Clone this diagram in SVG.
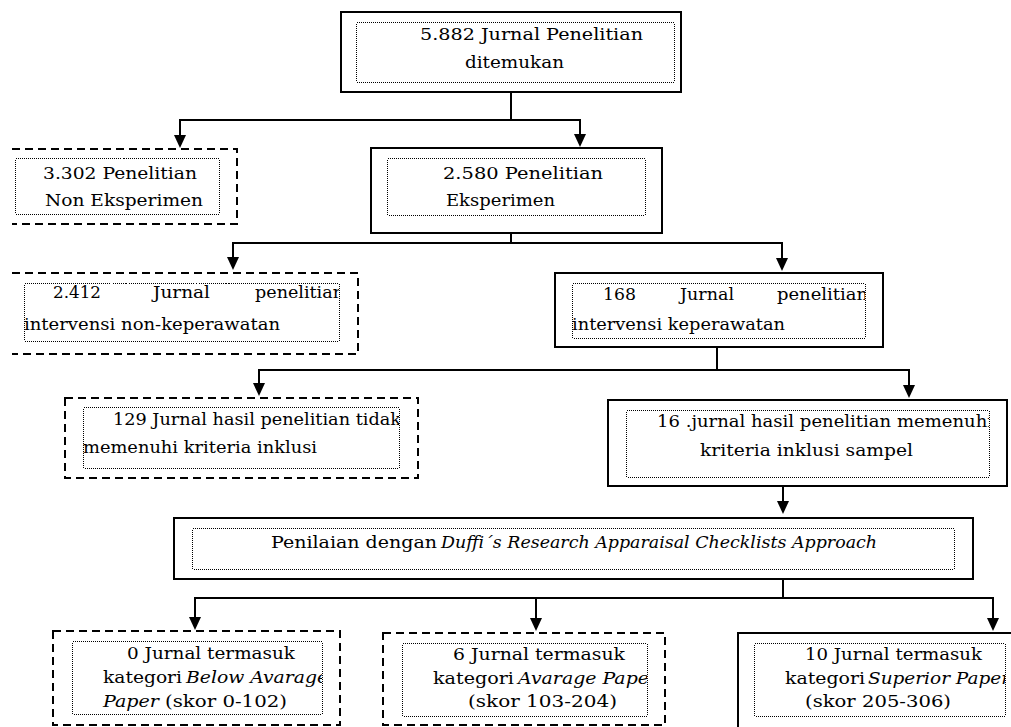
<svg xmlns="http://www.w3.org/2000/svg" width="1011" height="727" viewBox="0 0 1011 727">
<style>
.solid{fill:#fff;stroke:#000;stroke-width:2}
.dash{fill:none;stroke:#000;stroke-width:2;stroke-dasharray:8 5}
.dot{fill:none;stroke:#000;stroke-width:1;stroke-dasharray:1 1;shape-rendering:crispEdges}
.t{font-family:"DejaVu Serif","Liberation Serif",serif;font-size:16.5px;fill:#000}
.i{font-style:italic}
.c{fill:none;stroke:#000;stroke-width:2}
</style>
<defs>
<clipPath id="c1"><rect x="24" y="283" width="315" height="58"/></clipPath>
<clipPath id="c2"><rect x="572" y="283" width="293" height="55"/></clipPath>
<clipPath id="c3"><rect x="83" y="407" width="316" height="61"/></clipPath>
<clipPath id="c4"><rect x="626" y="410" width="363" height="67"/></clipPath>
<clipPath id="c5"><rect x="72" y="641" width="250" height="73"/></clipPath>
<clipPath id="c6"><rect x="402" y="643" width="245" height="73"/></clipPath>
<clipPath id="c7"><rect x="754" y="643" width="251" height="73"/></clipPath>
</defs>
<rect width="1011" height="727" fill="#fff"/>
<g id="connectors">
<path class="c" d="M511 92 V120 H180 V138"/>
<path class="c" d="M511 120 H580 V137"/>
<polygon points="174,135 186,135 180,148"/>
<polygon points="574,134 586,134 580,147"/>
<path class="c" d="M511 233 V243 H233 V258"/>
<path class="c" d="M511 243 H782 V258"/>
<polygon points="227,257 239,257 233,270"/>
<polygon points="776,258 788,258 782,271"/>
<path class="c" d="M717 347 V370 H259 V384"/>
<path class="c" d="M717 370 H909 V386"/>
<polygon points="253,383 265,383 259,396"/>
<polygon points="903,385 915,385 909,398"/>
<path class="c" d="M783 486 V503"/>
<polygon points="777,501 789,501 783,514"/>
<path class="c" d="M783 579 V598 H195 V618"/>
<path class="c" d="M783 598 H993 V619"/>
<path class="c" d="M536 598 V619"/>
<polygon points="189,617 201,617 195,630"/>
<polygon points="530,618 542,618 536,631"/>
<polygon points="987,618 999,618 993,631"/>
</g>
<g id="n1">
<rect class="solid" x="341" y="12" width="340" height="80"/>
<rect class="dot" x="356.5" y="22.5" width="318" height="60" rx="2"/>
<text class="t" x="420" y="40" textLength="223" lengthAdjust="spacingAndGlyphs">5.882 Jurnal Penelitian</text>
<text class="t" x="465" y="68" textLength="99" lengthAdjust="spacingAndGlyphs">ditemukan</text>
</g>
<g id="n2">
<path class="dash" d="M12 149 H237 V224 H12"/>
<rect class="dot" x="15.5" y="158.5" width="204" height="56" rx="2"/>
<text class="t" x="43" y="179" textLength="154" lengthAdjust="spacingAndGlyphs">3.302 Penelitian</text>
<text class="t" x="45" y="206" textLength="158" lengthAdjust="spacingAndGlyphs">Non Eksperimen</text>
</g>
<g id="n3">
<rect class="solid" x="371" y="148" width="291" height="85"/>
<rect class="dot" x="387.5" y="158.5" width="258" height="57" rx="2"/>
<text class="t" x="443" y="179" textLength="160" lengthAdjust="spacingAndGlyphs">2.580 Penelitian</text>
<text class="t" x="446" y="206" textLength="109" lengthAdjust="spacingAndGlyphs">Eksperimen</text>
</g>
<g id="n4">
<path class="dash" d="M12 273 H358 V354 H12"/>
<rect class="dot" x="24.5" y="283.5" width="315" height="58" rx="2"/>
<g clip-path="url(#c1)">
<text class="t" x="53" y="298" textLength="48" lengthAdjust="spacingAndGlyphs">2.412</text>
<text class="t" x="153" y="298" textLength="57" lengthAdjust="spacingAndGlyphs">Jurnal</text>
<text class="t" x="255" y="298" textLength="89" lengthAdjust="spacingAndGlyphs">penelitian</text>
</g>
<text class="t" x="24" y="330" textLength="256" lengthAdjust="spacingAndGlyphs">intervensi  non-keperawatan</text>
</g>
<g id="n5">
<rect class="solid" x="555" y="273" width="328" height="74"/>
<rect class="dot" x="572.5" y="283.5" width="293" height="55" rx="2"/>
<g clip-path="url(#c2)">
<text class="t" x="603" y="300" textLength="33" lengthAdjust="spacingAndGlyphs">168</text>
<text class="t" x="680" y="300" textLength="54" lengthAdjust="spacingAndGlyphs">Jurnal</text>
<text class="t" x="777" y="300" textLength="91" lengthAdjust="spacingAndGlyphs">penelitian</text>
</g>
<text class="t" x="572" y="330" textLength="213" lengthAdjust="spacingAndGlyphs">intervensi keperawatan</text>
</g>
<g id="n6">
<rect class="dash" x="65" y="398" width="353" height="80"/>
<rect class="dot" x="83.5" y="407.5" width="316" height="61" rx="2"/>
<g clip-path="url(#c3)">
<text class="t" x="113" y="425" textLength="288" lengthAdjust="spacingAndGlyphs">129 Jurnal hasil penelitian tidak</text>
</g>
<text class="t" x="83" y="453" textLength="234" lengthAdjust="spacingAndGlyphs">memenuhi kriteria inklusi</text>
</g>
<g id="n7">
<rect class="solid" x="608" y="400" width="399" height="86"/>
<rect class="dot" x="626.5" y="410.5" width="363" height="67" rx="2"/>
<g clip-path="url(#c4)">
<text class="t" x="657" y="427" textLength="336" lengthAdjust="spacingAndGlyphs">16 .jurnal hasil penelitian memenuhi</text>
</g>
<text class="t" x="700" y="456" textLength="213" lengthAdjust="spacingAndGlyphs">kriteria inklusi sampel</text>
</g>
<g id="n8">
<rect class="solid" x="174" y="518" width="799" height="61"/>
<rect class="dot" x="192.5" y="528.5" width="762" height="41" rx="2"/>
<text class="t" x="271" y="548" textLength="166" lengthAdjust="spacingAndGlyphs">Penilaian dengan</text>
<text class="t i" x="441" y="548" textLength="436" lengthAdjust="spacingAndGlyphs">Duffi´s Research Apparaisal Checklists Approach</text>
</g>
<g id="n9">
<rect class="dash" x="53" y="631" width="287" height="94"/>
<rect class="dot" x="72.5" y="641.5" width="250" height="73" rx="2"/>
<text class="t" x="127" y="659" textLength="168" lengthAdjust="spacingAndGlyphs">0 Jurnal termasuk</text>
<text class="t" x="103" y="683" textLength="79" lengthAdjust="spacingAndGlyphs">kategori</text>
<g clip-path="url(#c5)">
<text class="t i" x="186" y="683" textLength="142" lengthAdjust="spacingAndGlyphs">Below Avarage</text>
</g>
<text class="t i" x="103" y="707" textLength="56" lengthAdjust="spacingAndGlyphs">Paper</text>
<text class="t" x="165" y="707" textLength="122" lengthAdjust="spacingAndGlyphs">(skor 0-102)</text>
</g>
<g id="n10">
<rect class="dash" x="383" y="633" width="282" height="92"/>
<rect class="dot" x="402.5" y="643.5" width="245" height="73" rx="2"/>
<text class="t" x="453" y="660" textLength="172" lengthAdjust="spacingAndGlyphs">6  Jurnal termasuk</text>
<text class="t" x="433" y="684" textLength="81" lengthAdjust="spacingAndGlyphs">kategori</text>
<g clip-path="url(#c6)">
<text class="t i" x="518" y="684" textLength="140" lengthAdjust="spacingAndGlyphs">Avarage Paper</text>
</g>
<text class="t" x="468" y="707" textLength="149" lengthAdjust="spacingAndGlyphs">(skor 103-204)</text>
</g>
<g id="n11">
<rect class="solid" x="738" y="633" width="280" height="100"/>
<rect class="dot" x="754.5" y="643.5" width="251" height="73" rx="2"/>
<text class="t" x="805" y="660" textLength="177" lengthAdjust="spacingAndGlyphs">10 Jurnal termasuk</text>
<text class="t" x="785" y="684" textLength="80" lengthAdjust="spacingAndGlyphs">kategori</text>
<g clip-path="url(#c7)">
<text class="t i" x="868" y="684" textLength="142" lengthAdjust="spacingAndGlyphs">Superior Paper</text>
</g>
<text class="t" x="805" y="707" textLength="146" lengthAdjust="spacingAndGlyphs">(skor 205-306)</text>
</g>
</svg>
